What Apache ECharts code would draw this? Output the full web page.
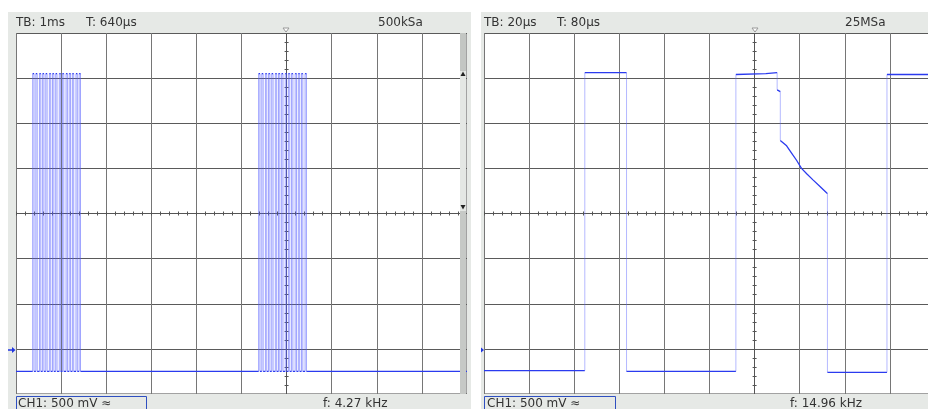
<!DOCTYPE html>
<html>
<head>
<meta charset="utf-8">
<script src="https://cdn.jsdelivr.net/npm/echarts/dist/echarts.min.js"></script>
<style>
  html, body { margin: 0; padding: 0; background: #fff; }
  #chart { width: 928px; height: 409px; }
</style>
</head>
<body>
<div id="chart"></div>
<script>
// both screens: 10 x 8 divisions, 0 = the ticked centre lines
// volts are relative to screen centre, 500 mV/div

// left capture, 1 ms/div, time in ms
const leftTimeRange = [-6, 4];
const leftLow = -1.75;
const leftHigh = 1.55;
const burstARise = [-5.63, -5.56, -5.48, -5.41, -5.34, -5.26, -5.19, -5.12, -5.04, -4.97, -4.89, -4.82, -4.75, -4.67, -4.60];
const burstAFall = [-5.60, -5.53, -5.45, -5.38, -5.31, -5.23, -5.16, -5.09, -5.01, -4.94, -4.86, -4.79, -4.72, -4.64, -4.57];
const burstBRise = [-0.62, -0.55, -0.47, -0.40, -0.33, -0.25, -0.18, -0.11, -0.03, 0.04, 0.11, 0.19, 0.26, 0.33, 0.41];
const burstBFall = [-0.59, -0.52, -0.44, -0.37, -0.30, -0.22, -0.15, -0.08, 0.00, 0.07, 0.14, 0.22, 0.29, 0.36, 0.44];

// right capture, 20 us/div, time in us
const rightTimeRange = [-120, 80];
const rightTime = [-120, -75.3, -75.3, -56.8, -56.8, -8.3, -8.3, 5.0, 10.0, 10.0, 11.4, 11.4, 14.2, 16.4, 18.6, 20.8, 23.1, 26.0, 29.0, 31.9, 32.3, 32.3, 58.7, 58.7, 80];
const rightVolt = [-1.74, -1.74, 1.56, 1.56, -1.75, -1.75, 1.54, 1.55, 1.56, 1.37, 1.35, 0.81, 0.75, 0.67, 0.59, 0.50, 0.44, 0.37, 0.30, 0.23, 0.22, -1.76, -1.76, 1.54, 1.54];

const headerLeft = ['TB: 1ms', 'T: 640µs', '500kSa'];
const headerRight = ['TB: 20µs', 'T: 80µs', '25MSa'];
const footerLeft = ['CH1: 500 mV ≈', 'f: 4.27 kHz'];
const footerRight = ['CH1: 500 mV ≈', 'f: 14.96 kHz'];

function burstTrace(range, low, high, bursts) {
  const t = [range[0]], v = [low];
  bursts.forEach(([rise, fall]) => rise.forEach((r, i) => {
    t.push(r, r, fall[i], fall[i]);
    v.push(low, high, high, low);
  }));
  t.push(range[1]);
  v.push(low);
  return [t, v];
}

// vertical edges are drawn faint, flat parts solid, like the scope does
function splitTrace(t, v) {
  const levels = [], edges = [];
  for (let i = 0; i < t.length; i++) {
    if (i > 0 && t[i] === t[i - 1]) {
      edges.push([t[i - 1], v[i - 1]], [t[i], v[i]], [t[i], null]);
      levels.push([t[i], null]);
    }
    levels.push([t[i], v[i]]);
  }
  return { levels, edges };
}

const leftTrace = splitTrace(...burstTrace(leftTimeRange, leftLow, leftHigh, [[burstARise, burstAFall], [burstBRise, burstBFall]]));
const rightTrace = splitTrace(rightTime, rightVolt);

const tickStyle = { color: '#555', width: 1 };
const gridLeft = [16, 484];
const ranges = [leftTimeRange, rightTimeRange];
const steps = [1, 20];
const edgeColor = ['rgba(80,90,255,0.55)', 'rgba(90,100,255,0.45)'];

const grid = [], xAxis = [], yAxis = [], series = [];
[leftTrace, rightTrace].forEach((tr, p) => {
  grid.push({ left: gridLeft[p], top: 33, width: 451, height: 361, show: true,
    outerBoundsMode: 'none', containLabel: false,
    backgroundColor: '#fff', borderColor: '#444', borderWidth: 1 });
  ['bottom', 'top'].forEach((pos, k) => xAxis.push({
    type: 'value', gridIndex: p, position: pos,
    min: ranges[p][0], max: ranges[p][1], interval: steps[p],
    axisLine: { show: true, onZero: true, onZeroAxisIndex: 2 * p, lineStyle: tickStyle },
    axisTick: { show: true, length: 2, lineStyle: tickStyle },
    minorTick: { show: true, splitNumber: 5, length: 2, lineStyle: tickStyle },
    axisLabel: { show: false },
    splitLine: { show: k === 0, lineStyle: { color: '#767676', width: 1 } }
  }));
  ['left', 'right'].forEach((pos, k) => yAxis.push({
    type: 'value', gridIndex: p, position: pos,
    min: -2, max: 2, interval: 0.5,
    axisLine: { show: true, onZero: true, onZeroAxisIndex: 2 * p, lineStyle: tickStyle },
    axisTick: { show: true, length: 2, lineStyle: tickStyle },
    minorTick: { show: true, splitNumber: 5, length: 2, lineStyle: tickStyle },
    axisLabel: { show: false },
    splitLine: { show: k === 0, lineStyle: { color: '#5a5a5a', width: 1 } }
  }));
  series.push({
    type: 'line', xAxisIndex: 2 * p, yAxisIndex: 2 * p, data: tr.edges,
    symbol: 'none', z: 3, lineStyle: { color: edgeColor[p], width: 1 }
  }, {
    type: 'line', xAxisIndex: 2 * p, yAxisIndex: 2 * p, data: tr.levels,
    symbol: 'none', z: 4, lineStyle: { color: '#2b3bef', width: 1.3 }
  });
});

const font = '12px "DejaVu Sans"';
function txt(text, x, y) {
  return { type: 'text', x, y, z: 10, style: { text, fill: '#333', font, verticalAlign: 'middle' } };
}
function rect(x, y, w, h, fill) {
  return { type: 'rect', z: 9, shape: { x, y, width: w, height: h }, style: { fill } };
}
function poly(points, style) {
  return { type: 'polygon', z: 11, shape: { points }, style };
}
const frame = '#e6e9e6';
const blue = '#2035e0';

const graphic = [
  // left frame
  rect(8, 12, 463, 21, frame), rect(8, 33, 8, 361, frame), rect(467, 33, 4, 361, frame), rect(8, 394, 463, 15, frame),
  // right frame
  rect(481, 12, 447, 21, frame), rect(481, 33, 3, 361, frame), rect(481, 394, 447, 15, frame),
  // scroll bar in the left screen
  rect(460, 33, 6, 38, '#c3c6c3'), rect(460, 71, 6, 140, '#e4e7e4'), rect(460, 211, 6, 183, '#c6c9c6'),
  poly([[460.5, 76], [465.5, 76], [463, 71.5]], { fill: '#222' }),
  poly([[460.5, 205], [465.5, 205], [463, 209.5]], { fill: '#222' }),
  // trigger markers
  poly([[283, 28], [289, 28], [286, 32]], { fill: '#fff', stroke: '#999', lineWidth: 1 }),
  poly([[752, 28], [758, 28], [755, 32]], { fill: '#fff', stroke: '#999', lineWidth: 1 }),
  // ground markers
  { type: 'line', z: 11, shape: { x1: 8, y1: 350, x2: 13, y2: 350 }, style: { stroke: blue, lineWidth: 1.5 } },
  poly([[12, 347], [12, 353], [15.5, 350]], { fill: blue }),
  poly([[481, 347.5], [481, 352.5], [484, 350]], { fill: blue }),
  // header texts
  txt(headerLeft[0], 16, 22.5), txt(headerLeft[1], 86, 22.5), txt(headerLeft[2], 378, 22.5),
  txt(headerRight[0], 484, 22.5), txt(headerRight[1], 557, 22.5), txt(headerRight[2], 845, 22.5),
  // footers
  { type: 'rect', z: 10, shape: { x: 16.5, y: 396.5, width: 130, height: 20 }, style: { fill: 'none', stroke: '#2f4fc0', lineWidth: 1 } },
  { type: 'rect', z: 10, shape: { x: 484.5, y: 396.5, width: 131, height: 20 }, style: { fill: 'none', stroke: '#2f4fc0', lineWidth: 1 } },
  txt(footerLeft[0], 18, 403.5), txt(footerLeft[1], 323, 403.5),
  txt(footerRight[0], 487, 403.5), txt(footerRight[1], 790, 403.5)
];

const chart = echarts.init(document.getElementById('chart'), null, { renderer: 'canvas' });
chart.setOption({
  animation: false,
  backgroundColor: '#fff',
  grid, xAxis, yAxis, series, graphic
});
</script>
</body>
</html>
